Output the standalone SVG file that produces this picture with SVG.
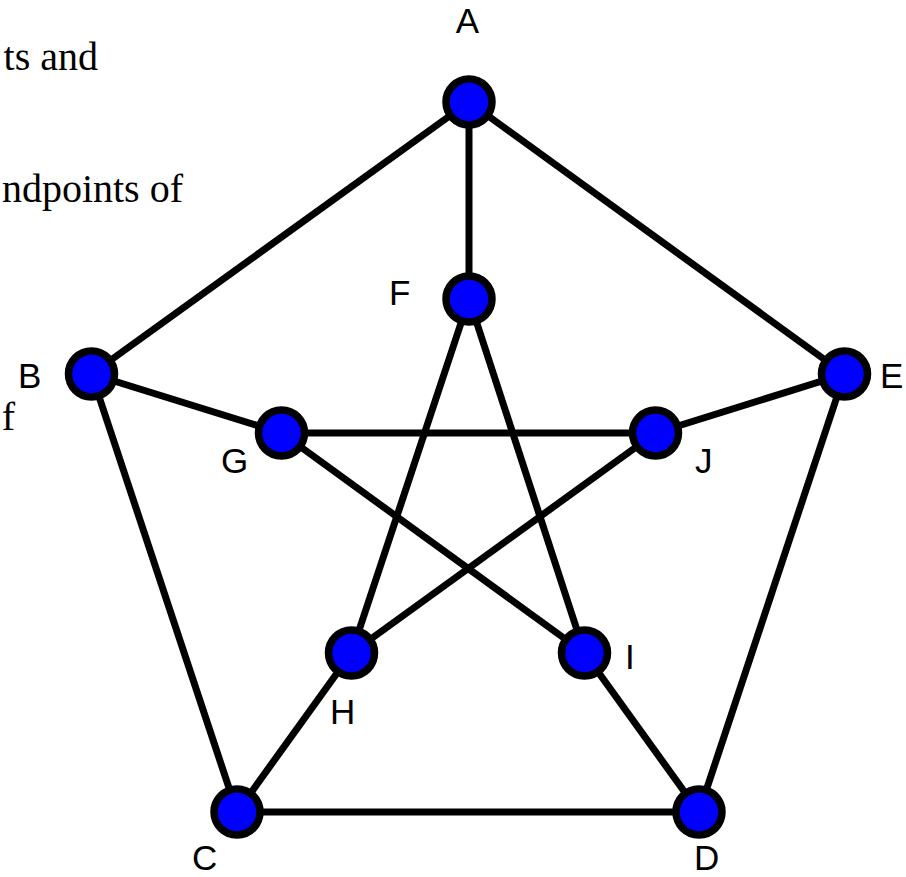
<svg xmlns="http://www.w3.org/2000/svg" width="906" height="877" viewBox="0 0 906 877">
<style>
.bg{fill:#ffffff}
.edge{stroke:#000000;stroke-width:7;stroke-linecap:butt;fill:none}
.node{fill:#0000ff;stroke:#000000;stroke-width:7.5}
.lbl{font-family:"Liberation Sans",Arial,sans-serif;font-size:35px;fill:#000000}
.txt{font-family:"Liberation Serif","Times New Roman",serif;font-size:40px;fill:#000000;text-anchor:end}
</style>
<rect class="bg" x="0" y="0" width="906" height="877"/>
<g id="background-text">
<text class="txt" x="98" y="70">ts and</text>
<text class="txt" x="183" y="202">ndpoints of</text>
<text class="txt" x="15" y="430">f</text>
</g>
<g id="connectors">
<line class="edge" x1="469" y1="102" x2="91.5" y2="374"/>
<line class="edge" x1="469" y1="102" x2="844.5" y2="374"/>
<line class="edge" x1="469" y1="102" x2="469" y2="299"/>
<line class="edge" x1="91.5" y1="374" x2="237" y2="812"/>
<line class="edge" x1="91.5" y1="374" x2="281.5" y2="433"/>
<line class="edge" x1="844.5" y1="374" x2="699" y2="812"/>
<line class="edge" x1="844.5" y1="374" x2="655.5" y2="433"/>
<line class="edge" x1="237" y1="812" x2="699" y2="812"/>
<line class="edge" x1="237" y1="812" x2="351.5" y2="653"/>
<line class="edge" x1="699" y1="812" x2="584.5" y2="653"/>
<line class="edge" x1="469" y1="299" x2="351.5" y2="653"/>
<line class="edge" x1="469" y1="299" x2="584.5" y2="653"/>
<line class="edge" x1="281.5" y1="433" x2="655.5" y2="433"/>
<line class="edge" x1="281.5" y1="433" x2="584.5" y2="653"/>
<line class="edge" x1="351.5" y1="653" x2="655.5" y2="433"/>
</g>
<g id="node-A"><circle class="node" cx="469" cy="102" r="23"/><text class="lbl" x="467.5" y="33" text-anchor="middle">A</text></g>
<g id="node-B"><circle class="node" cx="91.5" cy="374" r="23"/><text class="lbl" x="18" y="388">B</text></g>
<g id="node-C"><circle class="node" cx="237" cy="812" r="23"/><text class="lbl" x="192" y="870">C</text></g>
<g id="node-D"><circle class="node" cx="699" cy="812" r="23"/><text class="lbl" x="694" y="870">D</text></g>
<g id="node-E"><circle class="node" cx="844.5" cy="374" r="23"/><text class="lbl" x="880" y="388">E</text></g>
<g id="node-F"><circle class="node" cx="469" cy="299" r="23"/><text class="lbl" x="389" y="305">F</text></g>
<g id="node-G"><circle class="node" cx="281.5" cy="433" r="23"/><text class="lbl" x="221" y="473">G</text></g>
<g id="node-H"><circle class="node" cx="351.5" cy="653" r="23"/><text class="lbl" x="330" y="724">H</text></g>
<g id="node-I"><circle class="node" cx="584.5" cy="653" r="23"/><text class="lbl" x="625" y="669">I</text></g>
<g id="node-J"><circle class="node" cx="655.5" cy="433" r="23"/><text class="lbl" x="695" y="473">J</text></g>
</svg>
